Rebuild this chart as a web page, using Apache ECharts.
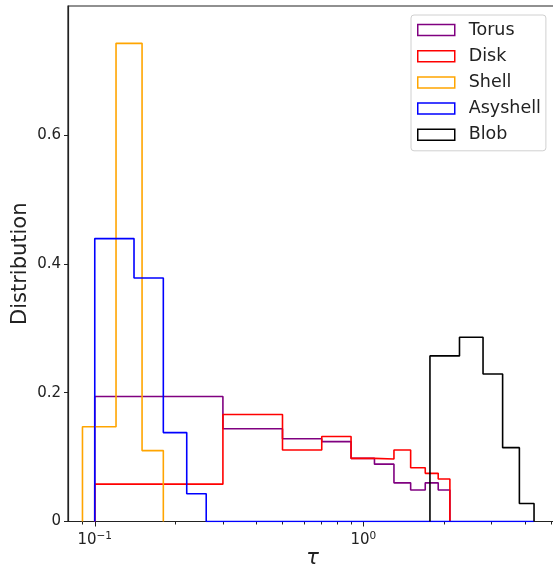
<!DOCTYPE html>
<html>
<head>
<meta charset="utf-8">
<script src="https://cdn.jsdelivr.net/npm/echarts@6/dist/echarts.min.js"></script>
<style>
  html, body { margin: 0; padding: 0; background: #fff; }
  #chart { width: 553px; height: 573px; }
</style>
</head>
<body>
<div id="chart"></div>
<script>
// bin edges and heights
const torusEdges = [0.1, 0.3, 0.5, 0.7, 0.9, 1.1, 1.3, 1.5, 1.7, 1.9, 2.1];
const torusValues = [0.194, 0.144, 0.1285, 0.124, 0.098, 0.089, 0.060, 0.049, 0.060, 0.049];
const diskEdges = [0.1, 0.3, 0.5, 0.7, 0.9, 1.1, 1.3, 1.5, 1.7, 1.9, 2.1];
const diskValues = [0.058, 0.166, 0.111, 0.132, 0.098, 0.097, 0.111, 0.0835, 0.0747, 0.066];
const shellEdges = [0.09, 0.12, 0.15, 0.18];
const shellValues = [0.147, 0.742, 0.11];
const asyEdges = [0.1, 0.14, 0.18, 0.22, 0.26, 4.32];
const asyValues = [0.439, 0.378, 0.138, 0.043, 0];
const blobEdges = [1.77, 2.28, 2.79, 3.3, 3.81, 4.32];
const blobValues = [0.257, 0.286, 0.229, 0.1146, 0.028];

const names = ['Torus', 'Disk', 'Shell', 'Asyshell', 'Blob'];
const colors = ['#800080', '#ff0000', '#ffa500', '#0000ff', '#000000'];

const yTicks = [0, 0.2, 0.4, 0.6];
const xMajor = [0.1, 1];
const xMinor = [0.09, 0.2, 0.3, 0.4, 0.5, 0.6, 0.7, 0.8, 0.9, 2, 3, 4, 5];

// outline of a step histogram
function stepPath(edges, values) {
    const pts = [[edges[0], 0]];
    values.forEach((v, i) => {
        pts.push([edges[i], v]);
        pts.push([edges[i + 1], v]);
    });
    pts.push([edges[edges.length - 1], 0]);
    return pts;
}

const hists = [
    [torusEdges, torusValues],
    [diskEdges, diskValues],
    [shellEdges, shellValues],
    [asyEdges, asyValues],
    [blobEdges, blobValues]
];

const font = 'DejaVu Sans';
const chart = echarts.init(document.getElementById('chart'), null, { renderer: 'canvas' });

function powLabel(v) {
    const p = Math.round(Math.log10(v));
    return '{b|10}{s|' + (p < 0 ? '−' + (-p) : p) + '}';
}

chart.setOption({
    animation: false,
    backgroundColor: '#fff',
    grid: {
        left: 68, top: 6, right: -4, bottom: 51.5,
        containLabel: false, outerBoundsMode: 'none',
        show: true, borderColor: '#222', borderWidth: 1.2, backgroundColor: 'transparent'
    },
    legend: {
        orient: 'vertical',
        left: 411, top: 15,
        padding: [6, 5, 7, 6],
        itemWidth: 37, itemHeight: 11, itemGap: 8.2,
        icon: 'rect',
        backgroundColor: 'rgba(255,255,255,0.8)',
        borderColor: '#d0d0d0', borderWidth: 1, borderRadius: 3,
        textStyle: { fontFamily: font, fontSize: 17.5, color: '#222', lineHeight: 17, padding: [0, 0, 0, 9] },
        data: names.map((n, i) => ({
            name: n,
            itemStyle: { color: 'rgba(255,255,255,0)', borderColor: colors[i], borderWidth: 1.5 }
        }))
    },
    xAxis: [{
        type: 'log', logBase: 10,
        min: 0.0795, max: 5.26,
        name: 'τ', nameLocation: 'middle', nameGap: 27, nameMoveOverlap: false,
        nameTextStyle: { fontFamily: font, fontSize: 21, fontStyle: 'italic', color: '#222' },
        axisLine: { lineStyle: { color: '#222', width: 1.2 } },
        axisTick: { customValues: xMajor, length: 5, lineStyle: { color: '#222', width: 1 } },
        axisLabel: {
            customValues: xMajor,
            margin: 9,
            formatter: powLabel,
            rich: {
                b: { fontFamily: font, fontSize: 15, color: '#222' },
                s: { fontFamily: font, fontSize: 10.5, color: '#222', padding: [0, 0, 8, 0] }
            }
        },
        splitLine: { show: false }
    }, {
        type: 'log', logBase: 10,
        min: 0.0795, max: 5.26,
        position: 'bottom',
        axisLine: { show: false },
        axisTick: { customValues: xMinor, length: 3, lineStyle: { color: '#222', width: 1 } },
        axisLabel: { show: false },
        splitLine: { show: false }
    }],
    yAxis: {
        type: 'value',
        min: 0, max: 0.8,
        name: 'Distribution', nameLocation: 'middle', nameGap: 37, nameMoveOverlap: false,
        nameTextStyle: { fontFamily: font, fontSize: 21, color: '#222' },
        axisLine: { show: true, lineStyle: { color: '#222', width: 1.2 } },
        axisTick: { show: true, customValues: yTicks, length: 4, lineStyle: { color: '#222', width: 1 } },
        axisLabel: { customValues: yTicks, margin: 7, fontFamily: font, fontSize: 15, color: '#222' },
        splitLine: { show: false }
    },
    series: hists.map((h, i) => ({
        name: names[i],
        type: 'line',
        xAxisIndex: 0,
        data: stepPath(h[0], h[1]),
        showSymbol: false,
        symbol: 'none',
        color: colors[i],
        lineStyle: { color: colors[i], width: 1.6 },
        itemStyle: { color: colors[i] }
    }))
});
</script>
</body>
</html>
